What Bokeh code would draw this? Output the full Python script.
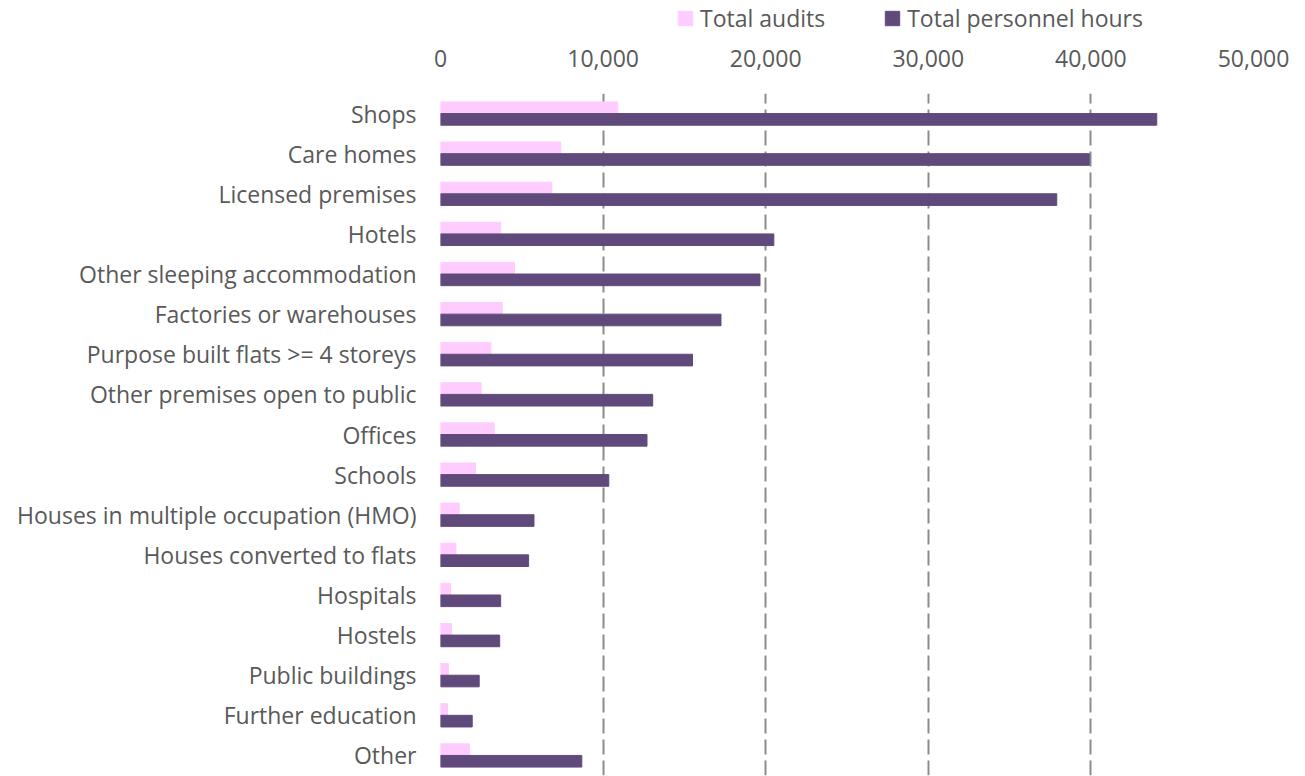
from bokeh.plotting import figure
from bokeh.layouts import column
from bokeh.models import (FactorRange, FixedTicker, NumeralTickFormatter, Legend,
                          LegendItem, ColumnDataSource, Range1d)
from bokeh.transform import dodge
from bokeh.embed import file_html
from bokeh.resources import INLINE

categories = ["Shops", "Care homes", "Licensed premises", "Hotels",
              "Other sleeping accommodation", "Factories or warehouses",
              "Purpose built flats >= 4 storeys", "Other premises open to public",
              "Offices", "Schools", "Houses in multiple occupation (HMO)",
              "Houses converted to flats", "Hospitals", "Hostels",
              "Public buildings", "Further education", "Other"]
total_audits = [10900, 7400, 6850, 3700, 4550, 3800, 3100, 2500, 3300, 2150,
                1150, 950, 620, 680, 490, 430, 1790]
total_hours = [44050, 39900, 37900, 20500, 19650, 17250, 15500, 13050, 12700,
               10350, 5750, 5420, 3700, 3640, 2380, 1950, 8690]
series_names = ["Total audits", "Total personnel hours"]
series_colors = ["#FFCCFF", "#604A7B"]
x_ticks = [0, 10000, 20000, 30000, 40000, 50000]

FONT = "Open Sans"
TXT = "#595959"
W, H = 1305, 776
LH = 36                      # legend strip height
BL, BR, BT, BB = 440, 52, 93 - LH, 1

src = ColumnDataSource(dict(cat=categories, audits=total_audits, hours=total_hours))

# ---- legend strip (swatches only; off-range dummy points) ----
lg = figure(width=W, height=LH, output_backend="svg", toolbar_location=None,
            x_range=Range1d(0, 1), y_range=Range1d(0, 1),
            min_border_left=BL, min_border_right=BR, min_border_top=0,
            min_border_bottom=0)
lg.axis.visible = False
lg.grid.visible = False
lg.outline_line_color = None
d1 = lg.rect(x=[-10], y=[-10], width=1, height=1, fill_color=series_colors[0],
             line_color=series_colors[0])
d2 = lg.rect(x=[-10], y=[-10], width=1, height=1, fill_color=series_colors[1],
             line_color=series_colors[1])
legend = Legend(items=[LegendItem(label=series_names[0], renderers=[d1]),
                       LegendItem(label=series_names[1], renderers=[d2])],
                orientation="horizontal", location=(236, 2),
                border_line_color=None, background_fill_alpha=0,
                label_text_font=FONT, label_text_font_size="23px",
                label_text_color=TXT, glyph_width=18, glyph_height=18,
                label_standoff=6, spacing=58, padding=0, margin=0)
lg.add_layout(legend, "center")

# ---- main chart ----
p = figure(width=W, height=H - LH, output_backend="svg", toolbar_location=None,
           y_range=FactorRange(factors=list(reversed(categories))),
           x_range=(0, 50000), x_axis_location="above",
           min_border_left=BL, min_border_right=BR, min_border_top=BT,
           min_border_bottom=BB)
p.outline_line_color = None

p.hbar(y=dodge("cat", 0.145, range=p.y_range), right="audits", left=0,
       height=0.29, source=src, fill_color=series_colors[0],
       line_color=series_colors[0])
p.hbar(y=dodge("cat", -0.145, range=p.y_range), right="hours", left=0,
       height=0.29, source=src, fill_color=series_colors[1],
       line_color=series_colors[1])

xa = p.xaxis[0]
xa.ticker = FixedTicker(ticks=x_ticks)
xa.formatter = NumeralTickFormatter(format="0,0")
xa.axis_line_color = None
xa.major_tick_line_color = None
xa.minor_tick_line_color = None
xa.major_label_text_font = FONT
xa.major_label_text_font_size = "23px"
xa.major_label_text_color = TXT
xa.major_label_standoff = 21

ya = p.yaxis[0]
ya.axis_line_color = None
ya.major_tick_line_color = None
ya.minor_tick_line_color = None
ya.major_label_text_font = FONT
ya.major_label_text_font_size = "23px"
ya.major_label_text_color = TXT
ya.major_label_standoff = 18

p.ygrid.grid_line_color = None
p.xgrid.ticker = FixedTicker(ticks=x_ticks)
p.xgrid.grid_line_color = "#8C8C8C"
p.xgrid.grid_line_width = 2
p.xgrid.grid_line_dash = "15 6"

layout = column(lg, p, spacing=0)
open("out.html", "w").write(file_html(layout, INLINE))
